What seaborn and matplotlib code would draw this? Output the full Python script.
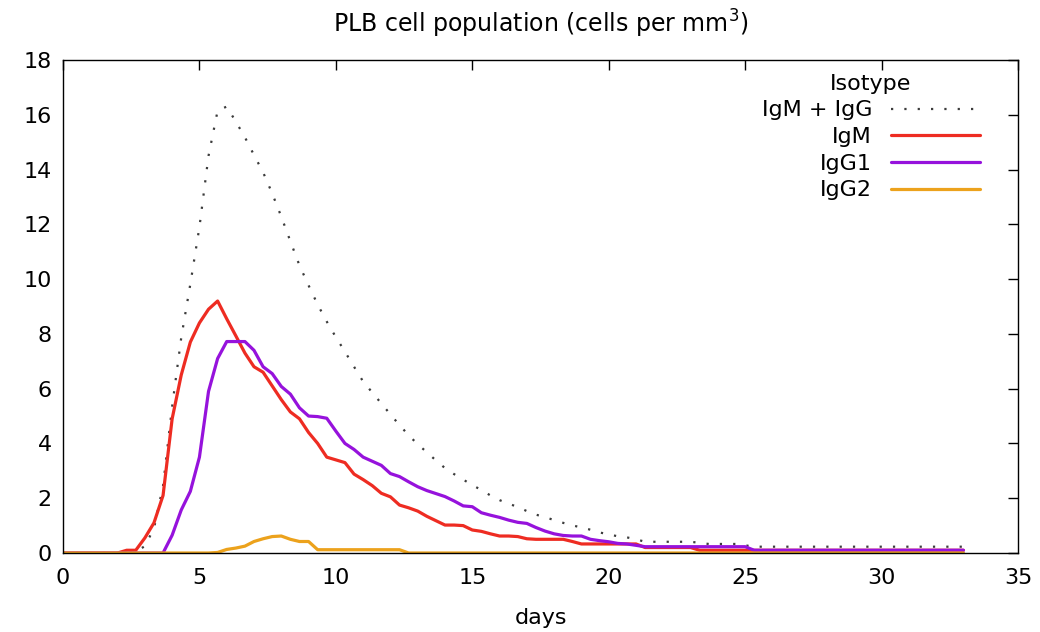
import numpy as np
import pandas as pd
import matplotlib
matplotlib.use("Agg")
import matplotlib.pyplot as plt
import seaborn as sns

# sampling times (every 8 hours, in days)
days = np.arange(100) / 3.0

igm_igg = [0, 0, 0, 0, 0, 0, 0, 0, 0.05, 0.25,
           0.9, 2.45, 5.35, 7.86, 9.82, 11.9, 14.5, 16.15, 16.3, 15.75,
           15.18, 14.53, 13.9, 13.13, 12.28, 11.38, 10.5, 9.77, 9.07, 8.45,
           7.88, 7.35, 6.8, 6.26, 5.86, 5.46, 5.06, 4.67, 4.3, 3.97,
           3.68, 3.38, 3.1, 2.88, 2.68, 2.48, 2.3, 2.1, 1.93, 1.8,
           1.68, 1.53, 1.40, 1.31, 1.2, 1.1, 1.01, 0.93, 0.85, 0.75,
           0.68, 0.61, 0.57, 0.5, 0.41, 0.41, 0.41, 0.41, 0.41, 0.41,
           0.37, 0.33, 0.33, 0.33, 0.33, 0.28, 0.23, 0.23, 0.23, 0.23,
           0.23, 0.23, 0.23, 0.23, 0.23, 0.23, 0.23, 0.23, 0.23, 0.23,
           0.23, 0.23, 0.23, 0.23, 0.23, 0.23, 0.23, 0.23, 0.23, 0.23]

igm = [0, 0, 0, 0, 0, 0, 0, 0.1, 0.1, 0.55,
       1.1, 2.1, 4.9, 6.5, 7.7, 8.4, 8.9, 9.2, 8.55, 7.93,
       7.3, 6.8, 6.6, 6.1, 5.6, 5.15, 4.9, 4.4, 4.0, 3.5,
       3.4, 3.3, 2.88, 2.68, 2.46, 2.18, 2.05, 1.75, 1.65, 1.53,
       1.34, 1.18, 1.02, 1.02, 1.0, 0.84, 0.79, 0.7, 0.62, 0.62,
       0.6, 0.52, 0.5, 0.5, 0.5, 0.5, 0.42, 0.33, 0.33, 0.33,
       0.33, 0.33, 0.33, 0.33, 0.2, 0.2, 0.2, 0.2, 0.2, 0.2,
       0.1, 0.1, 0.1, 0.1, 0.1, 0.1, 0.1, 0.1, 0.1, 0.1,
       0.1, 0.1, 0.1, 0.1, 0.1, 0.1, 0.1, 0.1, 0.1, 0.1,
       0.1, 0.1, 0.1, 0.1, 0.1, 0.1, 0.1, 0.1, 0.1, 0.1]

igg1 = [0, 0, 0, 0, 0, 0, 0, 0, 0, 0,
        0, 0, 0.65, 1.57, 2.25, 3.5, 5.9, 7.1, 7.72, 7.72,
        7.72, 7.4, 6.8, 6.55, 6.08, 5.8, 5.3, 5.0, 4.98, 4.92,
        4.45, 4.0, 3.78, 3.5, 3.35, 3.2, 2.9, 2.79, 2.6, 2.42,
        2.28, 2.17, 2.06, 1.9, 1.72, 1.69, 1.47, 1.38, 1.30, 1.2,
        1.12, 1.08, 0.93, 0.8, 0.7, 0.64, 0.62, 0.62, 0.5, 0.45,
        0.41, 0.35, 0.33, 0.28, 0.23, 0.23, 0.23, 0.23, 0.23, 0.23,
        0.23, 0.23, 0.23, 0.23, 0.23, 0.23, 0.1, 0.1, 0.1, 0.1,
        0.1, 0.1, 0.1, 0.1, 0.1, 0.1, 0.1, 0.1, 0.1, 0.1,
        0.1, 0.1, 0.1, 0.1, 0.1, 0.1, 0.1, 0.1, 0.1, 0.1]

igg2 = [0, 0, 0, 0, 0, 0, 0, 0, 0, 0,
        0, 0, 0, 0, 0, 0, 0, 0.02, 0.13, 0.18,
        0.25, 0.42, 0.52, 0.6, 0.62, 0.5, 0.42, 0.42, 0.12, 0.12,
        0.12, 0.12, 0.12, 0.12, 0.12, 0.12, 0.12, 0.12, 0, 0,
        0, 0, 0, 0, 0, 0, 0, 0, 0, 0,
        0, 0, 0, 0, 0, 0, 0, 0, 0, 0,
        0, 0, 0, 0, 0, 0, 0, 0, 0, 0,
        0, 0, 0, 0, 0, 0, 0, 0, 0, 0,
        0, 0, 0, 0, 0, 0, 0, 0, 0, 0,
        0, 0, 0, 0, 0, 0, 0, 0, 0, 0]

series_names = ["IgM + IgG", "IgM", "IgG1", "IgG2"]
series_values = [igm_igg, igm, igg1, igg2]

x_ticks = [0, 5, 10, 15, 20, 25, 30, 35]
y_ticks = [0, 2, 4, 6, 8, 10, 12, 14, 16, 18]

df = pd.concat(
    [pd.DataFrame({"days": days, "cells": vals, "Isotype": name})
     for name, vals in zip(series_names, series_values)],
    ignore_index=True,
)

sns.set_style("white")
plt.rcParams["font.family"] = ["DejaVu Sans"]
plt.rcParams["text.color"] = "black"
plt.rcParams["axes.labelcolor"] = "black"
plt.rcParams["legend.labelcolor"] = "black"

fig = plt.figure(figsize=(10.4, 6.32), dpi=100)
W, H = 1040, 632
left, right, top, bottom = 63, 1018, 60, 553
ax = fig.add_axes([left / W, 1 - bottom / H, (right - left) / W, (bottom - top) / H])

styles = {
    "IgM + IgG": dict(color="#3c3c3c", lw=1.6, ls=(0, (1, 5))),
    "IgM": dict(color="#ee2c22", lw=2.3, ls="-"),
    "IgG1": dict(color="#9612dc", lw=2.3, ls="-"),
    "IgG2": dict(color="#eca21c", lw=2.3, ls="-"),
}

for name in series_names:
    st = styles[name]
    sns.lineplot(data=df[df["Isotype"] == name], x="days", y="cells",
                 color=st["color"], linewidth=st["lw"], linestyle=st["ls"],
                 label=name, ax=ax, estimator=None, sort=False)

ax.set_xlim(0, 35)
ax.set_ylim(0, 18)
ax.set_xticks(x_ticks)
ax.set_yticks(y_ticks)
ax.tick_params(direction="in", length=7, width=1, top=True, right=True,
               labelsize=16, colors="black")
ax.tick_params(axis="x", pad=11)
ax.tick_params(axis="y", pad=8)
for sp in ax.spines.values():
    sp.set_visible(True)
    sp.set_color("black")
    sp.set_linewidth(1)

ax.set_xlabel("days", fontsize=16, labelpad=14, color="black")
ax.set_ylabel("")
ax.set_title("PLB cell population (cells per mm$^3$)", fontsize=17, pad=20,
             color="black")

leg = ax.legend(title="Isotype", loc="upper right", bbox_to_anchor=(0.96, 0.972),
                frameon=False, markerfirst=False, handlelength=4.0,
                handletextpad=0.85, labelspacing=0.3, fontsize=16,
                title_fontsize=16, borderaxespad=0, borderpad=0)
leg.get_title().set_color("black")

fig.savefig("out.png", dpi=100)
